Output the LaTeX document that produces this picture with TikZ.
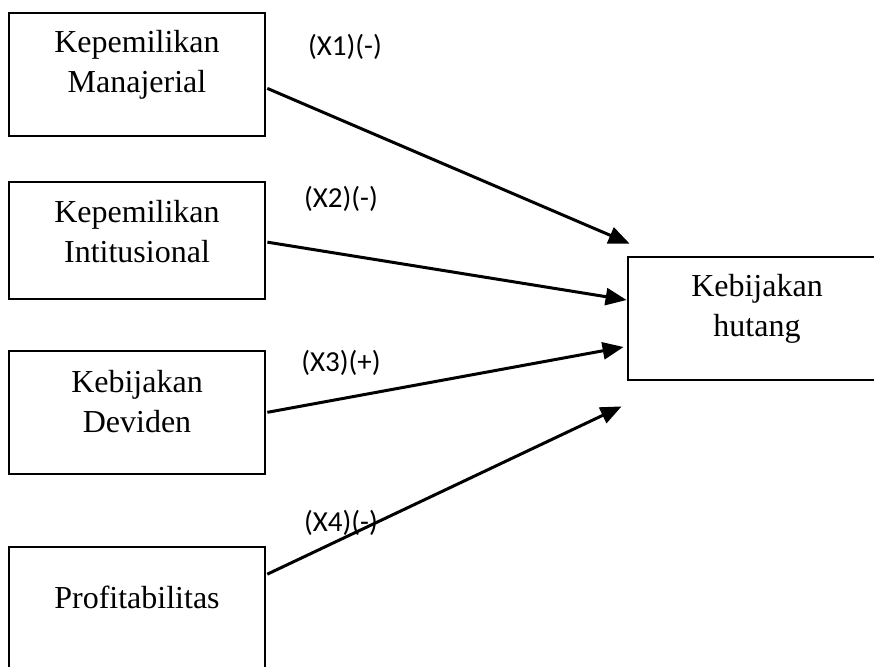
\documentclass[tikz,border=0pt]{standalone}
\usepackage{fontspec}
\setmainfont{Liberation Serif}
\newfontfamily\lblfont{Carlito}
\usetikzlibrary{arrows.meta}
\tikzset{
  boxnode/.style={draw=black, line width=2.8pt, rectangle, inner sep=0pt},
  boxtext/.style={font=\fontsize{32}{40}\selectfont, align=center, anchor=base, inner sep=0pt},
  lbl/.style={font=\lblfont\fontsize{29}{34}\selectfont, inner sep=0pt},
  arr/.style={line width=3pt, -{Triangle[length=21pt,width=17pt]}, shorten <=1pt}
}
\begin{document}
\begin{tikzpicture}[x=1pt,y=-1pt]
\useasboundingbox (0,0) rectangle (874,666);
% boxes
\node[boxnode, minimum width=256pt, minimum height=123pt] (k1) at (137,74.5) {};
\node[boxnode, minimum width=256pt, minimum height=117pt] (k2) at (137,240.5) {};
\node[boxnode, minimum width=256pt, minimum height=123pt] (k3) at (137,412.5) {};
\node[boxnode, minimum width=256pt, minimum height=150pt] (k4) at (137,622) {};
\node[boxnode, minimum width=258pt, minimum height=123pt] (y) at (757,318.5) {};
% texts
\node[boxtext] (t1) at (137,93) {Kepemilikan\\Manajerial};
\node[boxtext] (t2) at (137,262) {Kepemilikan\\Intitusional};
\node[boxtext] (t3) at (137,432) {Kebijakan\\Deviden};
\node[boxtext] (t4) at (137,608) {Profitabilitas};
\node[boxtext] (ty) at (757,336) {Kebijakan\\hutang};
% labels
\node[lbl] (l1) at (345,47) {(X1)(-)};
\node[lbl] (l2) at (341,199) {(X2)(-)};
\node[lbl] (l3) at (341,363) {(X3)(+)};
\node[lbl] (l4) at (341,523) {(X4)(-)};
% arrows
\draw[arr] ([yshift=-13.5pt]k1.east) -- ([xshift=3pt,yshift=12pt]y.north west);
\draw[arr] ([yshift=-1.5pt]k2.east) -- ([xshift=0pt,yshift=18.5pt]y.west);
\draw[arr] ([yshift=0pt]k3.east) -- ([xshift=-3pt,yshift=-28.5pt]y.west);
\draw[arr] ([yshift=-29pt]k4.north east) -- ([xshift=-5pt,yshift=-25pt]y.south west);
\end{tikzpicture}
\end{document}
